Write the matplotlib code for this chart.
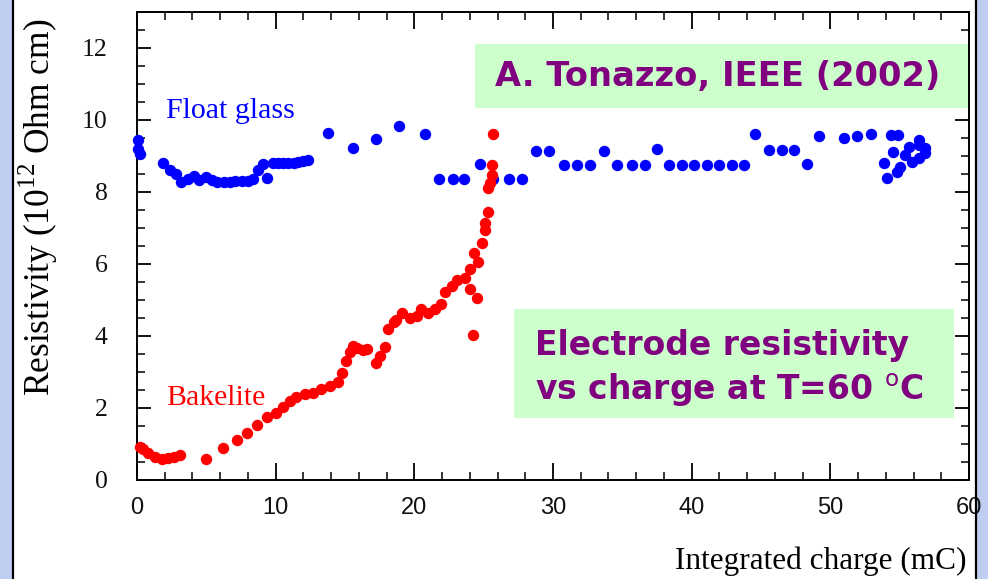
import matplotlib
matplotlib.use("Agg")
import matplotlib.pyplot as plt
from matplotlib.patches import Rectangle
from matplotlib.ticker import MultipleLocator

# ---------------- data ----------------
glass_x = [0.1, 0.1, 0.2, 1.9, 2.4, 2.8, 3.2, 3.7, 4.1, 4.5, 5.0, 5.4, 5.8, 6.3, 6.7,
           7.1, 7.6, 8.0, 8.4, 8.7, 9.1, 9.4, 9.8, 10.2, 10.5, 10.9, 11.3, 11.6, 12.0,
           12.3, 13.8, 15.6, 17.2, 18.9, 20.8, 21.8, 22.8, 23.6, 24.7, 25.7, 26.8,
           27.8, 28.8, 29.7, 30.8, 31.7, 32.7, 33.7, 34.6, 35.7, 36.6, 37.5, 38.4,
           39.3, 40.2, 41.1, 42.0, 42.9, 43.8, 44.6, 45.6, 46.5, 47.4, 48.3, 49.2,
           50.1, 51.0, 51.9, 52.9, 53.7, 53.9, 54.1, 54.4, 54.5, 54.8, 54.9, 55.0,
           55.4, 55.7, 55.9, 56.4, 56.4, 56.4, 56.8, 56.8]
glass_y = [9.45, 9.2, 9.05, 8.8, 8.6, 8.5, 8.28, 8.35, 8.45, 8.33, 8.42, 8.33, 8.28,
           8.28, 8.28, 8.3, 8.3, 8.3, 8.36, 8.6, 8.78, 8.4, 8.8, 8.8, 8.8, 8.8, 8.8,
           8.82, 8.85, 8.9, 9.64, 9.22, 9.47, 9.83, 9.6, 8.36, 8.36, 8.36, 8.78, 8.36,
           8.36, 8.36, 9.14, 9.14, 8.75, 8.75, 8.75, 9.14, 8.75, 8.75, 8.75, 9.19,
           8.75, 8.75, 8.75, 8.75, 8.75, 8.75, 8.75, 9.6, 9.17, 9.17, 9.17, 8.78, 9.56,
           10.62, 9.5, 9.56, 9.6, 10.62, 8.8, 8.38, 9.58, 9.1, 8.55, 9.58, 8.7,
           9.03, 9.25, 8.83, 9.44, 9.3, 8.94, 9.22, 9.08]

bake_x = [0.2, 0.4, 0.8, 1.3, 1.8, 2.2, 2.7, 3.1, 5.0, 6.2, 7.2, 7.9, 8.65, 9.4, 10.0,
          10.5, 11.0, 11.5, 12.1, 12.7, 13.3, 13.9, 14.5, 14.8, 15.1, 15.35, 15.6,
          15.9, 16.3, 16.6, 17.2, 17.5, 17.9, 18.1, 18.5, 18.7, 19.1, 19.7, 20.2,
          20.5, 21.0, 21.5, 21.9, 22.2, 22.7, 23.1, 23.65, 24.0, 24.0, 24.2, 24.3,
          24.5, 24.6, 24.9, 25.1, 25.1, 25.3, 25.3, 25.45, 25.6, 25.6, 25.7]
bake_y = [0.92, 0.85, 0.75, 0.64, 0.58, 0.62, 0.64, 0.69, 0.58, 0.89, 1.1, 1.3, 1.53,
          1.75, 1.85, 2.03, 2.2, 2.3, 2.38, 2.42, 2.52, 2.62, 2.72, 2.97, 3.3, 3.56,
          3.72, 3.67, 3.6, 3.64, 3.25, 3.45, 3.7, 4.2, 4.38, 4.44, 4.64, 4.5, 4.55,
          4.75, 4.64, 4.75, 4.9, 5.22, 5.4, 5.55, 5.62, 5.3, 5.85, 4.03, 6.3, 5.06,
          6.06, 6.58, 6.94, 7.14, 7.44, 8.1, 8.25, 8.47, 8.75, 9.6]

x_ticks = [0, 10, 20, 30, 40, 50, 60]
y_ticks = [0, 2, 4, 6, 8, 10, 12]

plt.rcParams["mathtext.fontset"] = "custom"
plt.rcParams["mathtext.rm"] = "Liberation Serif"
plt.rcParams["mathtext.sf"] = "DejaVu Sans"

W, H = 988, 579
fig = plt.figure(figsize=(W / 100, H / 100), dpi=100)
fig.patch.set_facecolor("#bfcdf0")

# white slide area with black borders
fig.add_artist(Rectangle((13 / W, 0), (975 - 13) / W, 1, transform=fig.transFigure,
                         facecolor="white", edgecolor="none", zorder=0))
for xp in (12.5, 975.5):
    fig.add_artist(plt.Line2D([xp / W, xp / W], [0, 1], transform=fig.transFigure,
                              color="black", lw=1.6, zorder=1))

ax = fig.add_axes([137 / W, (H - 480) / H, (969 - 137) / W, (480 - 12) / H])
ax.set_facecolor("white")
ax.set_xlim(0, 60)
ax.set_ylim(0, 13)

ax.plot(glass_x, glass_y, "o", color="#0000ff", ms=7.2, mec="#0000ff", zorder=3,
        clip_on=False)
ax.plot(bake_x, bake_y, "o", color="#ff0000", ms=7.2, mec="#ff0000", zorder=4,
        clip_on=False)

for s in ax.spines.values():
    s.set_linewidth(1.4)

ax.set_xticks(x_ticks)
ax.set_yticks(y_ticks)
ax.xaxis.set_minor_locator(MultipleLocator(2))
ax.yaxis.set_minor_locator(MultipleLocator(0.5))
ax.tick_params(axis="x", which="major", direction="in", length=12, width=1.3,
               top=True, bottom=True, pad=12)
ax.tick_params(axis="x", which="minor", direction="in", length=6, width=1.1,
               top=True, bottom=True)
ax.tick_params(axis="y", which="major", direction="in", length=10, width=1.3,
               left=True, right=True, pad=21)
ax.tick_params(axis="y", which="minor", direction="in", length=5.5, width=1.1,
               left=True, right=True)

ax.set_xticklabels([str(v) for v in x_ticks], family=["Liberation Sans"],
                   fontsize=17, color="#111111")
ax.set_yticklabels([str(v) for v in y_ticks], family=["Liberation Serif"],
                   fontsize=18.5, color="#111111")

fig.text(38 / W, 1 - 207 / H, r"Resistivity (10$^{12}$ Ohm cm)", rotation=90,
         family=["Liberation Serif"], fontsize=25.5, ha="center", va="center")
fig.text(966 / W, 1 - 561 / H, "Integrated charge (mC)", family=["Liberation Serif"],
         fontsize=22.5, ha="right", va="center")

ax.text(2.1, 10.05, "Float glass", color="#0000ff", family=["Liberation Serif"],
        fontsize=21.5, ha="left", va="baseline", zorder=5)
ax.text(2.1, 2.08, "Bakelite", color="#ff0000", family=["Liberation Serif"],
        fontsize=21.5, ha="left", va="baseline", zorder=5)

# green annotation boxes
ax.add_patch(Rectangle((24.4, 10.33), 59.9 - 24.4, 12.1 - 10.33, facecolor="#ccffcc",
                       edgecolor="none", zorder=6))
ax.text(41.9, 11.2, "A. Tonazzo, IEEE (2002)", color="#800080",
        family=["DejaVu Sans"], fontweight="bold", fontsize=24.3,
        ha="center", va="center", zorder=7)

ax.add_patch(Rectangle((27.2, 1.72), 58.9 - 27.2, 4.75 - 1.72, facecolor="#ccffcc",
                       edgecolor="none", zorder=6))
ax.text(28.7, 3.47, "Electrode resistivity", color="#800080",
        family=["DejaVu Sans"], fontweight="bold", fontsize=23.8,
        ha="left", va="baseline", zorder=7)
ax.text(28.7, 2.22, r"vs charge at T=60 $^{\mathsf{o}}$C", color="#800080",
        family=["DejaVu Sans"], fontweight="bold", fontsize=23.8,
        ha="left", va="baseline", zorder=7)

fig.savefig("out.png", dpi=100, facecolor=fig.get_facecolor())
